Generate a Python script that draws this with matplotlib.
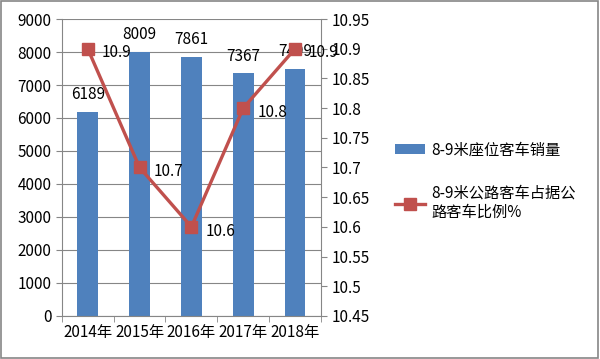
import numpy as np
import matplotlib.pyplot as plt
import matplotlib.patches as mpatches

plt.rcParams['font.family'] = ['Noto Sans CJK SC', 'DejaVu Sans']

# 数据
years = ['2014年', '2015年', '2016年', '2017年', '2018年']
sales = [6189, 8009, 7861, 7367, 7499]
ratio = [10.9, 10.7, 10.6, 10.8, 10.9]

bar_color = '#4F81BD'
line_color = '#C0504D'

fig = plt.figure(figsize=(6, 3.59), dpi=100)
ax = fig.add_axes([0.103, 0.12, 0.432, 0.827])
ax2 = ax.twinx()

x = np.arange(len(years))
bars = ax.bar(x, sales, width=0.4, color=bar_color, zorder=2)
for xi, v in zip(x, sales):
    ax.annotate(str(v), (xi, v), xytext=(0, 6), textcoords='offset points',
                ha='center', va='bottom', fontsize=11)

ax.set_ylim(0, 9000)
ax.set_yticks(range(0, 9001, 1000))
ax.set_xlim(-0.5, 4.5)
ax.set_xticks(x)
ax.set_xticklabels(years, fontsize=11)
ax.set_xticks(np.arange(-0.5, 5, 1), minor=True)
ax.tick_params(axis='x', which='major', length=0, pad=6)
ax.tick_params(axis='x', which='minor', length=4, color='#868686')
ax.tick_params(axis='y', length=4, color='#868686', labelsize=11)
ax.grid(axis='y', color='#868686', linewidth=0.8, zorder=0)
ax.set_axisbelow(True)
for s in ['top', 'right']:
    ax.spines[s].set_visible(False)
for s in ['left', 'bottom']:
    ax.spines[s].set_color('#868686')

line, = ax2.plot(x, ratio, color=line_color, linewidth=2.4, marker='s',
                 markersize=9, zorder=3)
for xi, v in zip(x, ratio):
    ax2.annotate(str(v), (xi, v), xytext=(10, -3), textcoords='offset points',
                 ha='left', va='center', fontsize=11)
ax2.set_ylim(10.45, 10.95)
ax2.set_yticks(np.round(np.arange(10.45, 10.951, 0.05), 2))
ax2.set_yticklabels(['10.45', '10.5', '10.55', '10.6', '10.65', '10.7',
                     '10.75', '10.8', '10.85', '10.9', '10.95'])
ax2.tick_params(axis='y', length=4, color='#868686', labelsize=11)
for s in ['top', 'left', 'bottom']:
    ax2.spines[s].set_visible(False)
ax2.spines['right'].set_color('#868686')

fig.legend([bars, line], ['8-9米座位客车销量', '8-9米公路客车占据公\n路客车比例%'],
           loc='upper left', bbox_to_anchor=(0.635, 0.645), frameon=False,
           fontsize=11, handlelength=2.0, handletextpad=0.4, labelspacing=1.7)

fig.add_artist(mpatches.Rectangle((0.002, 0.003), 0.995, 0.993,
                                  transform=fig.transFigure, fill=False,
                                  edgecolor='#868686', linewidth=1.2))

fig.savefig('out.png', dpi=100)
